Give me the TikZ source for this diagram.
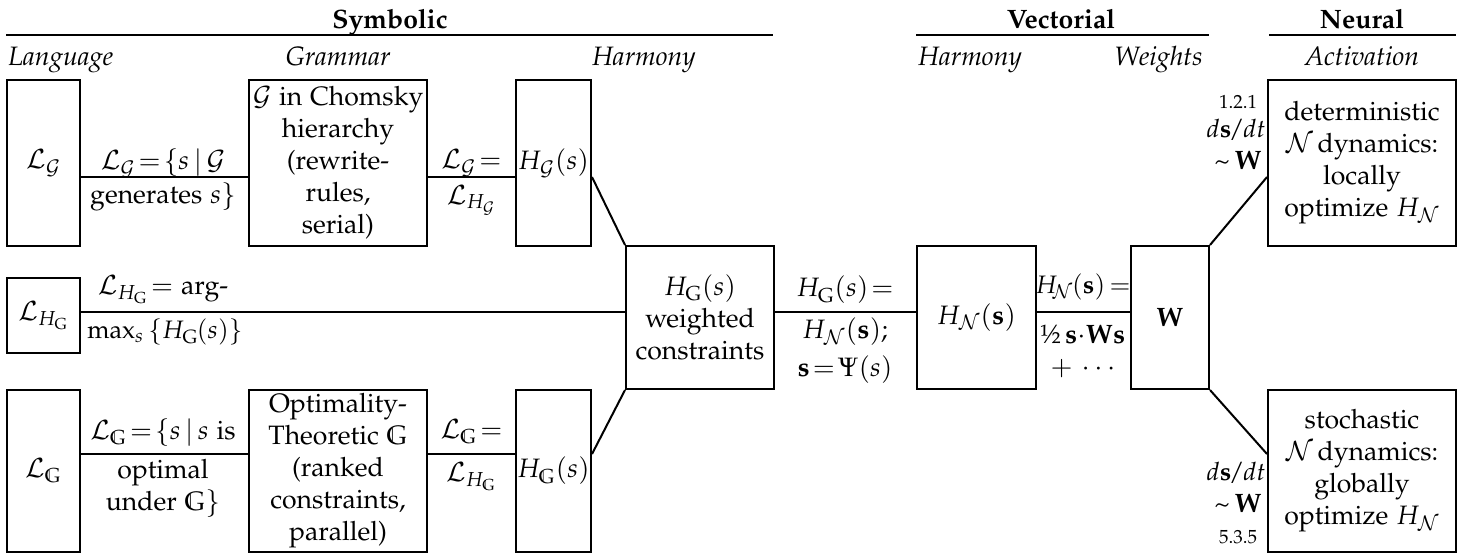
\documentclass[tikz,border=0pt]{standalone}
\usepackage[T1]{fontenc}
\usepackage{textcomp}
\usepackage{amssymb}
\usepackage[sc]{mathpazo}
\newcommand\nfont{\fontsize{13.3}{16}\selectfont}
\newcommand\sfontx{\fontsize{9.5}{11}\selectfont}
\tikzset{
  box/.style={draw, line width=1pt, inner sep=0pt, align=center, font=\nfont},
  lbl/.style={inner sep=0pt, align=center, font=\nfont},
  small/.style={inner sep=0pt, align=center, font=\sfontx},
  conn/.style={line width=1pt},
  rule/.style={line width=1.2pt},
  hdr/.style={inner sep=0pt, anchor=base, font=\nfont\bfseries},
  sub/.style={inner sep=0pt, font=\nfont\itshape}
}
\begin{document}
\begin{tikzpicture}[x=0.5pt,y=-0.5pt]
\useasboundingbox (0,0) rectangle (1466,554);
% headers
\node[hdr] (hsym) at (390,28) {Symbolic};
\node[hdr] (hvec) at (1061,28) {Vectorial};
\node[hdr] (hneu) at (1362,28) {Neural};
\draw[rule] (6,35) -- (773,35);
\draw[rule] (916,35) -- (1209,35);
\draw[rule] (1269,35) -- (1456,35);
\node[sub, anchor=base west] (s1) at (8,65) {Language};
\node[sub, anchor=base] (s2) at (338,65) {Grammar};
\node[sub, anchor=base] (s3) at (644,65) {Harmony};
\node[sub, anchor=base west] (s4) at (918,65) {Harmony};
\node[sub, anchor=base east] (s5) at (1203,65) {Weights};
\node[sub, anchor=base] (s6) at (1362,65) {Activation};
% boxes
\node[box, minimum width=36.5pt, minimum height=83pt] (lg) at (43.5,163) {$\mathcal{L}_{\mathcal{G}}$};
\node[box, minimum width=89pt, minimum height=83pt] (gram) at (338,163) {$\mathcal{G}$ in Chomsky\\hierarchy\\(rewrite-\\rules,\\serial)};
\node[box, minimum width=37.5pt, minimum height=83pt] (hg) at (553.5,163) {$H_{\mathcal{G}}(s)$};
\node[box, minimum width=36.5pt, minimum height=37.5pt] (lhg) at (43.5,315.5) {$\mathcal{L}_{H_{\mathrm{G}}}$};
\node[box, minimum width=74pt, minimum height=71.5pt] (cen) at (700,317.5) {$H_{\mathrm{G}}(s)$\\weighted\\constraints};
\node[box, minimum width=59.5pt, minimum height=71.5pt] (hn) at (976.5,317.5) {$H_{\mathcal{N}}(\mathbf{s})$};
\node[box, minimum width=39pt, minimum height=71.5pt] (wbox) at (1170,317.5) {$\mathbf{W}$};
\node[box, minimum width=94pt, minimum height=83pt] (det) at (1362,163) {deterministic\\$\mathcal{N}$\,dynamics:\\locally\\optimize $H_{\mathcal{N}}$};
\node[box, minimum width=94pt, minimum height=81pt] (sto) at (1362,471) {stochastic\\$\mathcal{N}$\,dynamics:\\globally\\optimize $H_{\mathcal{N}}$};
\node[box, minimum width=36.5pt, minimum height=81pt] (lgg) at (43.5,471) {$\mathcal{L}_{\mathbb{G}}$};
\node[box, minimum width=89pt, minimum height=81pt] (ot) at (338,471) {Optimality-\\Theoretic $\mathbb{G}$\\(ranked\\constraints,\\parallel)};
\node[box, minimum width=37.5pt, minimum height=81pt] (hgg) at (553.5,471) {$H_{\mathbb{G}}(s)$};
% connector levels
\coordinate (y1) at (0,177);
\coordinate (y2) at (0,312);
\coordinate (y3) at (0,454);
\draw[conn] (lg.east |- y1) -- (gram.west |- y1);
\draw[conn] (gram.east |- y1) -- (hg.west |- y1);
\draw[conn] (hg.east |- y1) -- (cen.north west);
\draw[conn] (lhg.east |- y2) -- (cen.west |- y2);
\draw[conn] (lgg.east |- y3) -- (ot.west |- y3);
\draw[conn] (ot.east |- y3) -- (hgg.west |- y3);
\draw[conn] (hgg.east |- y3) -- (cen.south west);
\draw[conn] (cen.east |- y2) -- (hn.west |- y2);
\draw[conn] (hn.east |- y2) -- (wbox.west |- y2);
\draw[conn] (wbox.north east) -- (det.west |- y1);
\draw[conn] (wbox.south east) -- (sto.west |- y3);
% labels
\node[lbl] (l1a) at (163,163) {$\mathcal{L}_{\mathcal{G}}\!=\!\{s\,|\,\mathcal{G}$};
\node[lbl] (l1b) at (163,197) {generates $s\}$};
\node[lbl] (l2a) at (471.5,163) {$\mathcal{L}_{\mathcal{G}}\!=$};
\node[lbl] (l2b) at (471.5,200) {$\mathcal{L}_{H_{\mathcal{G}}}$};
\node[lbl] (l3a) at (163,290) {$\mathcal{L}_{H_{\mathrm{G}}}\!=$ arg-};
\node[lbl, font=\fontsize{12.6}{15}\selectfont] (l3b) at (165,332) {max$_s\,\{H_{\mathrm{G}}\mkern-1mu(s)\}$};
\node[lbl] (l4a) at (163,432) {$\mathcal{L}_{\mathbb{G}}\!=\!\{s\,|\,s$ is};
\node[lbl] (l4b) at (163,488) {optimal\\under $\mathbb{G}\}$};
\node[lbl] (l5a) at (471.5,432) {$\mathcal{L}_{\mathbb{G}}\!=$};
\node[lbl] (l5b) at (471.5,477) {$\mathcal{L}_{H_{\mathbb{G}}}$};
\node[lbl] (l6a) at (845,290) {$H_{\mathrm{G}}(s)\!=$};
\node[lbl] (l6b) at (845,332) {$H_{\mathcal{N}}(\mathbf{s})$;};
\node[lbl] (l6c) at (845,370) {$\mathbf{s}\!=\!\Psi(s)$};
\node[lbl, font=\fontsize{12.6}{15}\selectfont] (l7a) at (1083,287) {$H_{\!\mathcal{N}}\mkern-1mu(\mathbf{s})\mkern-2mu=$};
\node[lbl] (l7b) at (1083,335) {\textonehalf\,$\mathbf{s}{\cdot}\mathbf{W}\mathbf{s}$};
\node[lbl] (l7c) at (1083,369) {$+\,\cdots$};
\node[small] (d1) at (1238,102) {1.2.1};
\node[lbl, font=\fontsize{12.6}{15}\selectfont] (d2) at (1236,130) {$d\mathbf{s}\mkern-2mu/\mkern-1mu dt$};
\node[lbl] (d3) at (1238,160) {\textasciitilde\,$\mathbf{W}$};
\node[lbl, font=\fontsize{12.6}{15}\selectfont] (e1) at (1236,473) {$d\mathbf{s}\mkern-2mu/\mkern-1mu dt$};
\node[lbl] (e2) at (1238,503) {\textasciitilde\,$\mathbf{W}$};
\node[small] (e3) at (1238,537) {5.3.5};
\end{tikzpicture}
\end{document}
